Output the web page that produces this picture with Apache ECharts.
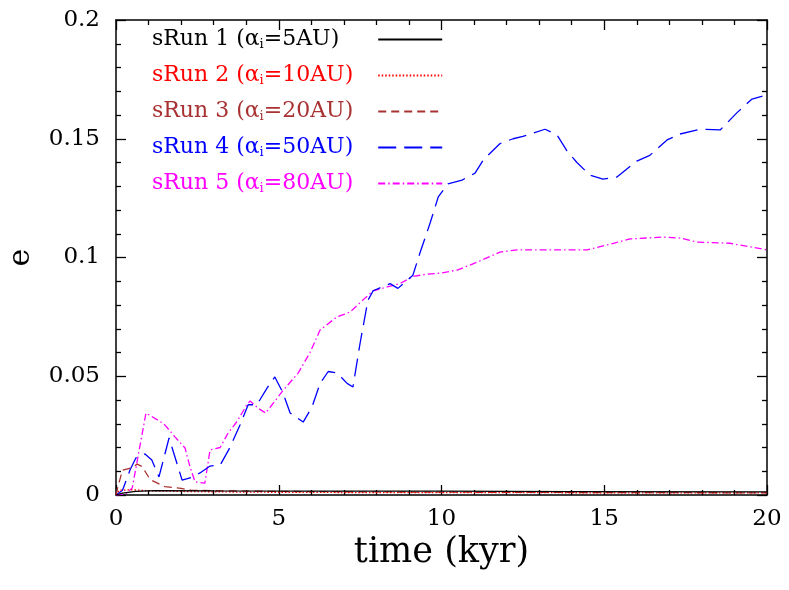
<!DOCTYPE html>
<html><head><meta charset="utf-8">
<script src="https://cdn.jsdelivr.net/npm/echarts@6/dist/echarts.min.js"></script>
<style>html,body{margin:0;padding:0;background:#fff}#c{width:789px;height:590px}</style>
</head><body><div id="c"></div>
<script>
// ---- data (time in kyr, eccentricity e) ----
const seriesNames = ['sRun 1', 'sRun 2', 'sRun 3', 'sRun 4', 'sRun 5'];
const legendLabels = ['5AU', '10AU', '20AU', '50AU', '80AU'];
const xTicks = [0, 5, 10, 15, 20];
const yTicks = [0, 0.05, 0.1, 0.15, 0.2];

const run1 = [[0,0],[0.2,0.0008],[0.6,0.0015],[1.2,0.0018],[3,0.0017],[6,0.0016],[10,0.0016],[14,0.0014],[20,0.0013]];
const run2 = [[0,0],[0.1,0.002],[0.5,0.0022],[1,0.0018],[2,0.0015],[4,0.0012],[8,0.001],[12,0.001],[16,0.0009],[20,0.0009]];
const run3 = [[0,0],[0.05,0.003],[0.2,0.0105],[0.5,0.0115],[0.65,0.013],[0.8,0.012],[1.05,0.0065],[1.5,0.0035],[2,0.0028],[2.3,0.002],[3,0.0018],[5,0.0015],[8,0.0013],[10,0.0012],[13,0.0011],[16,0.001],[20,0.0009]];
const run4 = [[0,0],[0.2,0.002],[0.43,0.0105],[0.61,0.0156],[0.89,0.0173],[1.1,0.0147],[1.32,0.0076],[1.63,0.024],[2.03,0.0063],[2.37,0.0076],[2.58,0.0093],[2.89,0.0122],[3.2,0.0126],[3.5,0.020],[3.81,0.0295],[4.06,0.038],[4.33,0.038],[4.64,0.045],[4.88,0.0497],[5.13,0.043],[5.35,0.0345],[5.75,0.0307],[6.02,0.037],[6.27,0.047],[6.52,0.052],[6.79,0.0514],[7.1,0.047],[7.28,0.0455],[7.5,0.064],[7.74,0.082],[7.9,0.086],[8.42,0.089],[8.66,0.087],[9.12,0.0925],[9.34,0.102],[9.65,0.1145],[9.9,0.1255],[10.2,0.131],[10.63,0.1326],[11.03,0.1355],[11.28,0.141],[11.8,0.148],[12.2,0.150],[12.5,0.151],[13.18,0.154],[13.55,0.1516],[13.85,0.145],[14.16,0.140],[14.56,0.1347],[14.96,0.133],[15.39,0.1339],[15.58,0.136],[16.0,0.1406],[16.4,0.143],[16.93,0.1495],[17.33,0.152],[17.94,0.154],[18.56,0.1537],[18.77,0.1566],[19.08,0.161],[19.54,0.1667],[20,0.1685]];
const run5 = [[0,0],[0.3,0.0005],[0.5,0.003],[0.92,0.0345],[1.35,0.031],[1.5,0.0295],[1.81,0.0245],[2.12,0.0198],[2.27,0.012],[2.43,0.0055],[2.73,0.005],[2.89,0.019],[3.2,0.020],[3.44,0.026],[3.72,0.031],[4.02,0.038],[4.12,0.0396],[4.36,0.0366],[4.6,0.0345],[5.13,0.044],[5.6,0.0514],[5.96,0.060],[6.27,0.0695],[6.79,0.075],[7.19,0.077],[7.5,0.081],[7.9,0.086],[8.33,0.0876],[8.72,0.089],[9.12,0.092],[9.55,0.093],[9.95,0.0934],[10.48,0.0947],[11.09,0.098],[11.8,0.1023],[12.32,0.1032],[13.24,0.1032],[14.47,0.1032],[15.08,0.1053],[15.79,0.1078],[16.8,0.1086],[17.33,0.1082],[17.85,0.1065],[18.86,0.106],[20,0.1032]];

const runData = [run1, run2, run3, run4, run5];
const colors = ['#000000', '#ff0000', '#a83232', '#0000ff', '#ff00ff'];
const dashes = ['solid', [1.5, 2], [8, 5], [18, 8], [7, 3, 1.5, 3]];

const FONT = 'DejaVu Serif';
const chart = echarts.init(document.getElementById('c'), null, {renderer: 'canvas'});

function axisCommon(showLabels, pos) {
  return {
    axisLine: {show: true, onZero: false, lineStyle: {color: '#000', width: 1.5}},
    axisTick: {show: true, inside: true, length: 10, lineStyle: {color: '#000', width: 1.3}},
    minorTick: {show: true, splitNumber: 5, length: 5, lineStyle: {color: '#000', width: 1.3}},
    splitLine: {show: false},
    minorSplitLine: {show: false},
    axisLabel: {show: showLabels, fontFamily: FONT, fontSize: 23, color: '#000'},
    position: pos
  };
}

const rich = {
  n: {fontFamily: FONT, fontSize: 22, lineHeight: 26},
  s: {fontFamily: FONT, fontSize: 13, lineHeight: 26, padding: [10, 0, 0, 0]},
  w: {width: 14},
  g: {width: 20}
};

const option = {
  animation: false,
  backgroundColor: '#fff',
  grid: {left: 116, right: 22, top: 20, bottom: 95, outerBoundsMode: 'none', containLabel: false},
  legend: {
    orient: 'vertical',
    left: 147,
    top: 23,
    align: 'right',
    itemWidth: 64,
    itemHeight: 14,
    itemGap: 13,
    itemTextGap: 5,
    itemStyle: {opacity: 0},
    data: seriesNames.map((n, i) => ({name: n, textStyle: {color: colors[i]}})),
    textStyle: {fontFamily: FONT, fontSize: 22, rich: rich},
    formatter: function (name) {
      const i = seriesNames.indexOf(name);
      const pad = legendLabels[i].length < 4 ? '{w| }' : '';
      return '{n|' + name + ' (α}{s|i}{n|=' + legendLabels[i] + ')}' + pad + '{g| }';
    }
  },
  xAxis: [
    Object.assign({type: 'value', min: xTicks[0], max: xTicks[xTicks.length - 1], interval: 5,
      name: 'time (kyr)', nameLocation: 'middle', nameGap: 37,
      nameTextStyle: {fontFamily: FONT, fontSize: 35, color: '#000'}}, axisCommon(true, 'bottom'),
      {axisLabel: {show: true, fontFamily: FONT, fontSize: 23, color: '#000', margin: 13}}),
    Object.assign({type: 'value', min: 0, max: 20, interval: 5}, axisCommon(false, 'top'))
  ],
  yAxis: [
    Object.assign({type: 'value', min: yTicks[0], max: yTicks[yTicks.length - 1], interval: 0.05,
      name: 'e', nameLocation: 'middle', nameGap: 80, nameRotate: 90,
      nameTextStyle: {fontFamily: FONT, fontSize: 30, color: '#000'}}, axisCommon(true, 'left'),
      {axisLabel: {show: true, fontFamily: FONT, fontSize: 23, color: '#000', margin: 16}}),
    Object.assign({type: 'value', min: 0, max: 0.2, interval: 0.05}, axisCommon(false, 'right'))
  ],
  series: seriesNames.map((n, i) => ({
    name: n,
    type: 'line',
    xAxisIndex: 0,
    yAxisIndex: 0,
    data: runData[i],
    showSymbol: false,
    symbol: 'none',
    smooth: false,
    z: 10 - i,
    lineStyle: {color: colors[i], width: 1.3, type: dashes[i]},
    itemStyle: {color: colors[i]}
  }))
};
chart.setOption(option);
</script></body></html>
